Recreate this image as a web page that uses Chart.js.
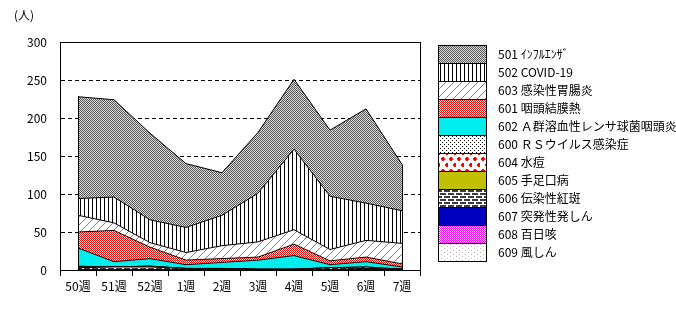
<!DOCTYPE html>
<html>
<head>
<meta charset="utf-8">
<script src="https://cdn.jsdelivr.net/npm/chart.js@4"></script>
<style>
  body { margin: 0; background: #fff; }
  #wrap { width: 676px; height: 325px; }
</style>
</head>
<body>
<div id="wrap"><canvas id="myChart" width="676" height="325"></canvas></div>
<script>
// weekly reports per disease (stacked, bottom series last in the legend)
var weeks = ['50週', '51週', '52週', '1週', '2週', '3週', '4週', '5週', '6週', '7週'];

var flu501 = [134, 128, 114, 84, 56, 80, 92, 87, 124, 61];
var covid502 = [22, 34, 30, 33, 40, 64, 106, 70, 49, 43];
var gastro603 = [22, 10, 6, 10, 17, 20, 19, 15, 22, 27];
var pcf601 = [21, 41, 15, 6, 5, 4, 15, 5, 6, 4];
var strep602 = [24, 7, 10, 5, 8, 12, 18, 4, 7, 3];
var rsv600 = [1, 0, 0, 0, 0, 0, 0, 0, 0, 0];
var varicella604 = [0, 0, 0, 0, 0, 0, 0, 0, 2, 0];
var hfmd605 = [1, 0, 1, 0, 0, 0, 0, 0, 0, 0];
var erythema606 = [3, 4, 4, 2, 2, 1, 1, 3, 2, 1];
var roseola607 = [0, 0, 0, 0, 0, 0, 0, 0, 0, 0];
var pertussis608 = [0, 0, 0, 0, 0, 0, 0, 0, 0, 0];
var rubella609 = [0, 0, 0, 0, 0, 0, 0, 0, 0, 0];

var font = { family: '"Noto Sans CJK JP", "Noto Sans", sans-serif', size: 12 };

function makePattern(w, h, draw) {
  var c = document.createElement('canvas');
  c.width = w;
  c.height = h;
  var g = c.getContext('2d');
  g.fillStyle = '#fff';
  g.fillRect(0, 0, w, h);
  draw(g);
  return g.createPattern(c, 'repeat');
}

function px(g, color, pts) {
  g.fillStyle = color;
  for (var i = 0; i < pts.length; i++) g.fillRect(pts[i][0], pts[i][1], 1, 1);
}

function cross(g, cx, cy) {
  g.fillRect(cx - 1, cy, 4, 2);
  g.fillRect(cx, cy - 1, 2, 4);
}

var fills = {
  p501: makePattern(2, 2, function (g) {
    g.fillStyle = '#d8d8d8'; g.fillRect(0, 0, 2, 2);
    px(g, '#5a5a5a', [[0, 0], [1, 1]]);
  }),
  p502: makePattern(4, 1, function (g) {
    px(g, '#000', [[0, 0]]);
  }),
  p603: makePattern(8, 8, function (g) {
    var pts = [];
    for (var i = 0; i < 8; i++) pts.push([i, 7 - i]);
    px(g, '#00dd00', pts);
  }),
  p601: makePattern(2, 2, function (g) {
    px(g, '#ff0000', [[0, 0], [1, 1]]);
  }),
  p602: '#00eeee',
  p600: makePattern(4, 4, function (g) {
    px(g, '#000', [[0, 0], [2, 2]]);
  }),
  p604: makePattern(8, 12, function (g) {
    g.fillStyle = '#ff0000';
    cross(g, 2, 2);
    cross(g, 6, 8);
  }),
  p605: '#c0c000',
  p606: makePattern(8, 6, function (g) {
    g.fillStyle = '#3c3c3c';
    g.fillRect(0, 1, 6, 2);
    g.fillRect(0, 4, 2, 2);
    g.fillRect(4, 4, 4, 2);
  }),
  p607: '#0000c0',
  p608: makePattern(2, 2, function (g) {
    px(g, '#ff00ff', [[0, 0], [1, 1]]);
  }),
  p609: makePattern(6, 4, function (g) {
    px(g, '#b8b8b8', [[0, 0], [3, 2]]);
  })
};

// bottom of the stack first
var series = [
  { label: '609 風しん', data: rubella609, fill: fills.p609 },
  { label: '608 百日咳', data: pertussis608, fill: fills.p608 },
  { label: '607 突発性発しん', data: roseola607, fill: fills.p607 },
  { label: '606 伝染性紅斑', data: erythema606, fill: fills.p606 },
  { label: '605 手足口病', data: hfmd605, fill: fills.p605 },
  { label: '604 水痘', data: varicella604, fill: fills.p604 },
  { label: '600 ＲＳウイルス感染症', data: rsv600, fill: fills.p600 },
  { label: '602 Ａ群溶血性レンサ球菌咽頭炎', data: strep602, fill: fills.p602 },
  { label: '601 咽頭結膜熱', data: pcf601, fill: fills.p601 },
  { label: '603 感染性胃腸炎', data: gastro603, fill: fills.p603 },
  { label: '502 COVID-19', data: covid502, fill: fills.p502 },
  { label: '501 ｲﾝﾌﾙｴﾝｻﾞ', data: flu501, fill: fills.p501 }
];

var datasets = series.map(function (s, i) {
  return {
    label: s.label,
    data: s.data,
    backgroundColor: s.fill,
    borderColor: '#000',
    borderWidth: 1,
    pointRadius: 0,
    tension: 0,
    fill: i === 0 ? 'origin' : '-1'
  };
});

// frame, end edges of the area, unit label and the legend column
var extras = {
  id: 'extras',
  afterDatasetsDraw: function (chart) {
    var ctx = chart.ctx;
    var a = chart.chartArea;
    var xs = chart.scales.x, ys = chart.scales.y;
    ctx.save();
    ctx.strokeStyle = '#000';
    ctx.lineWidth = 1;
    var last = weeks.length - 1;
    [0, last].forEach(function (i) {
      var total = 0;
      series.forEach(function (s) { total += s.data[i]; });
      var x = Math.round(xs.getPixelForValue(i)) + 0.5;
      ctx.beginPath();
      ctx.moveTo(x, ys.getPixelForValue(total));
      ctx.lineTo(x, ys.getPixelForValue(0));
      ctx.stroke();
    });
    ctx.strokeRect(Math.round(a.left) + 0.5, Math.round(a.top) + 0.5,
      Math.round(a.right - a.left), Math.round(a.bottom - a.top));
    ctx.restore();
  },
  afterDraw: function (chart) {
    var ctx = chart.ctx;
    ctx.save();
    ctx.font = font.size + 'px ' + font.family;
    ctx.fillStyle = '#000';
    ctx.textBaseline = 'middle';
    ctx.fillText('(人)', 14, 15);
    var bx = 438.5, by = 45.5, bw = 48, bh = 18;
    for (var k = 0; k < series.length; k++) {
      var s = series[series.length - 1 - k];
      var y = by + k * bh;
      ctx.fillStyle = s.fill;
      ctx.fillRect(bx, y, bw, bh);
      ctx.strokeStyle = '#000';
      ctx.lineWidth = 1;
      ctx.strokeRect(bx, y, bw, bh);
      ctx.fillStyle = '#000';
      ctx.fillText(s.label, 498, y + bh / 2);
    }
    ctx.restore();
  }
};

var myChart = new Chart(document.getElementById('myChart'), {
  type: 'line',
  data: { labels: weeks, datasets: datasets },
  plugins: [extras],
  options: {
    responsive: false,
    animation: false,
    layout: { padding: { left: 0, right: 256, top: 42, bottom: 0 } },
    plugins: {
      legend: { display: false },
      tooltip: { enabled: false }
    },
    scales: {
      x: {
        offset: true,
        grid: { offset: true, drawOnChartArea: false, color: '#000', tickLength: 6 },
        border: { color: '#000' },
        ticks: { color: '#000', font: font, padding: 3, maxRotation: 0, autoSkip: false },
        afterFit: function (s) { s.height = 55; }
      },
      y: {
        stacked: true,
        min: 0,
        max: 300,
        ticks: { stepSize: 50, color: '#000', font: font, padding: 13 },
        grid: { color: '#000', drawTicks: false },
        border: { color: '#000', dash: [4, 3] },
        afterFit: function (s) { s.width = 60; }
      }
    }
  }
});
</script>
</body>
</html>
